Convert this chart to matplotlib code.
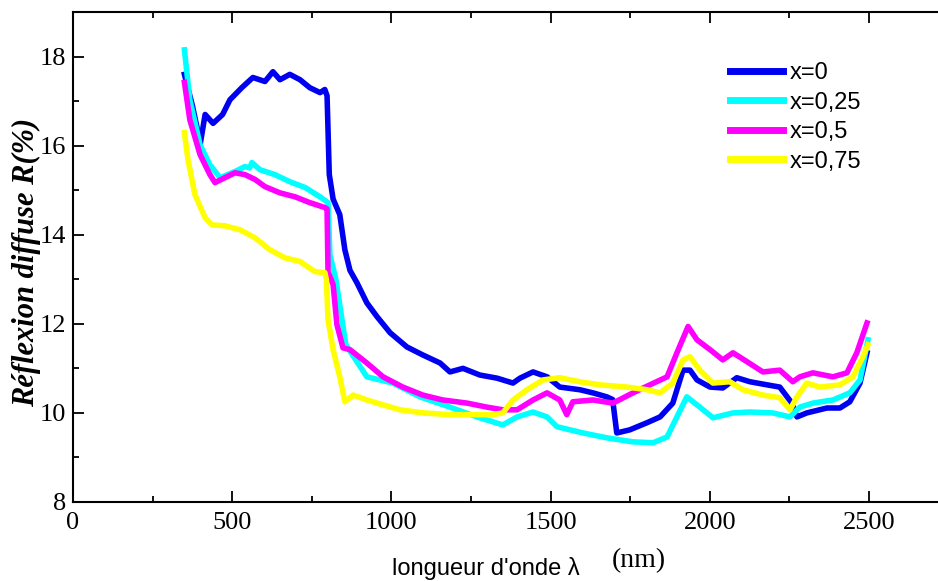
import matplotlib
matplotlib.use('Agg')
import matplotlib.pyplot as plt
from matplotlib.ticker import MultipleLocator

# diffuse reflectance spectra
wl_x0 = [350, 375, 400, 415, 440, 470, 493, 530, 565, 603, 628, 650, 681, 713, 744, 776, 791, 798,
         805, 817, 838, 854, 870, 892, 923, 955, 996, 1049, 1099, 1153, 1184, 1225, 1278, 1332, 1382,
         1404, 1445, 1489, 1529, 1592, 1633, 1677, 1695, 1708, 1749, 1803, 1844, 1884, 1916, 1938,
         1960, 2001, 2041, 2085, 2126, 2180, 2220, 2258, 2274, 2305, 2368, 2409, 2440, 2472, 2494]
r_x0 = [17.6, 16.9, 16.05, 16.7, 16.5, 16.7, 17.03, 17.3, 17.53, 17.44, 17.66, 17.48, 17.6, 17.48,
        17.3, 17.19, 17.26, 17.12, 15.35, 14.8, 14.45, 13.66, 13.2, 12.92, 12.47, 12.16, 11.8, 11.48,
        11.3, 11.12, 10.92, 11.0, 10.85, 10.78, 10.67, 10.78, 10.92, 10.81, 10.58, 10.52, 10.45,
        10.36, 10.3, 9.55, 9.62, 9.78, 9.91, 10.22, 10.96, 10.96, 10.74, 10.58, 10.56, 10.79, 10.70,
        10.63, 10.58, 10.22, 9.91, 10.0, 10.11, 10.11, 10.25, 10.67, 11.35]

wl_x025 = [350, 367, 399, 430, 462, 509, 540, 555, 562, 587, 634, 681, 729, 776, 801, 807, 826, 845,
           857, 923, 1005, 1090, 1184, 1269, 1350, 1395, 1445, 1489, 1520, 1602, 1677, 1759, 1822,
           1866, 1897, 1928, 1969, 2010, 2073, 2126, 2198, 2252, 2283, 2324, 2387, 2440, 2472, 2497]
r_x025 = [18.15, 17.03, 16.02, 15.57, 15.28, 15.42, 15.53, 15.5, 15.62, 15.46, 15.35, 15.19, 15.06,
          14.85, 14.72, 13.55, 12.99, 12.09, 11.53, 10.81, 10.67, 10.36, 10.13, 9.91, 9.73, 9.91,
          10.02, 9.91, 9.69, 9.55, 9.44, 9.35, 9.33, 9.46, 9.91, 10.36, 10.13, 9.89, 10.0, 10.02,
          10.0, 9.91, 10.13, 10.22, 10.29, 10.45, 10.74, 11.64]

wl_x05 = [350, 367, 399, 430, 446, 477, 509, 540, 572, 603, 650, 698, 744, 791, 798, 801, 817, 829,
          848, 870, 923, 974, 1036, 1099, 1162, 1238, 1300, 1350, 1395, 1445, 1489, 1529, 1551, 1570,
          1633, 1696, 1759, 1812, 1866, 1897, 1932, 1960, 2001, 2041, 2073, 2117, 2167, 2220, 2261,
          2283, 2324, 2387, 2431, 2462, 2494]
r_x05 = [17.42, 16.58, 15.8, 15.35, 15.17, 15.28, 15.39, 15.35, 15.24, 15.08, 14.94, 14.85, 14.72,
         14.61, 14.58, 13.17, 12.88, 11.98, 11.46, 11.42, 11.12, 10.81, 10.58, 10.4, 10.29, 10.22,
         10.13, 10.07, 10.07, 10.29, 10.45, 10.29, 9.96, 10.25, 10.29, 10.22, 10.45, 10.63, 10.81,
         11.35, 11.94, 11.64, 11.42, 11.19, 11.35, 11.15, 10.92, 10.96, 10.7, 10.81, 10.9, 10.81,
         10.9, 11.35, 12.02]

wl_x075 = [350, 361, 383, 415, 437, 477, 525, 572, 619, 666, 713, 760, 791, 796, 801, 817, 838, 854,
           880, 923, 974, 1027, 1099, 1184, 1256, 1319, 1350, 1382, 1426, 1476, 1529, 1592, 1655,
           1740, 1803, 1844, 1884, 1916, 1938, 1969, 2010, 2063, 2104, 2167, 2220, 2252, 2274, 2305,
           2346, 2409, 2450, 2481, 2497]
r_x075 = [16.29, 15.69, 14.9, 14.38, 14.22, 14.2, 14.11, 13.93, 13.66, 13.48, 13.4, 13.17, 13.15,
          12.99, 12.09, 11.42, 10.81, 10.25, 10.4, 10.29, 10.18, 10.07, 10.0, 9.96, 9.96, 9.96, 10.0,
          10.29, 10.52, 10.74, 10.79, 10.7, 10.63, 10.58, 10.52, 10.45, 10.67, 11.19, 11.26, 10.96,
          10.67, 10.7, 10.52, 10.4, 10.34, 10.07, 10.36, 10.67, 10.58, 10.63, 10.81, 11.26, 11.53]

labels = ['x=0', 'x=0,25', 'x=0,5', 'x=0,75']
colors = ['#0000f0', '#00ffff', '#ff00ff', '#ffff00']

plt.rc('font', family='Liberation Serif')

fig = plt.figure(figsize=(9.38, 5.81), dpi=100)
ax = fig.add_axes([73 / 938, 1 - 502 / 581, 1 - 73 / 938, (502 - 12) / 581])

series = [(wl_x0, r_x0), (wl_x025, r_x025), (wl_x05, r_x05), (wl_x075, r_x075)]
for (xs, ys), lab, c in zip(series, labels, colors):
    ax.plot(xs, ys, color=c, lw=4, label=lab, solid_joinstyle='round')

ax.set_xlim(0, 2717)
ax.set_ylim(8, 19.0)
ax.xaxis.set_major_locator(MultipleLocator(500))
ax.xaxis.set_minor_locator(MultipleLocator(250))
ax.yaxis.set_major_locator(MultipleLocator(2))
ax.yaxis.set_minor_locator(MultipleLocator(1))
ax.tick_params(which='both', direction='in', top=True, right=False, width=1.3, labelsize=19)
ax.tick_params(which='major', length=8)
ax.tick_params(which='minor', length=4)
ax.tick_params(axis='x', pad=7)
ax.tick_params(axis='y', pad=5)
for s in ['left', 'bottom', 'top']:
    ax.spines[s].set_linewidth(1.5)
ax.spines['right'].set_visible(False)

leg = ax.legend(loc='upper left', bbox_to_anchor=(730 / 938, 1 - 62 / 581),
                bbox_transform=fig.transFigure, frameon=False, borderpad=0, borderaxespad=0,
                handlelength=2.25, handletextpad=0.3, labelspacing=0.32,
                prop={'family': 'Liberation Sans', 'size': 17})
for h in leg.get_lines():
    h.set_linewidth(5)

fig.text(27 / 938, 1 - 262 / 581, u'R\u00e9flexion diffuse R(%)', rotation=90, ha='center',
         va='center', fontsize=22, fontweight='bold', fontstyle='italic')
fig.text(392 / 938, 1 - 569 / 581, u"longueur d'onde \u03bb", ha='left', va='center',
         family='Liberation Sans', fontsize=17)
fig.text(612 / 938, 1 - 561 / 581, '(nm)', ha='left', va='center', fontsize=20)

fig.savefig('out.png', dpi=100)
